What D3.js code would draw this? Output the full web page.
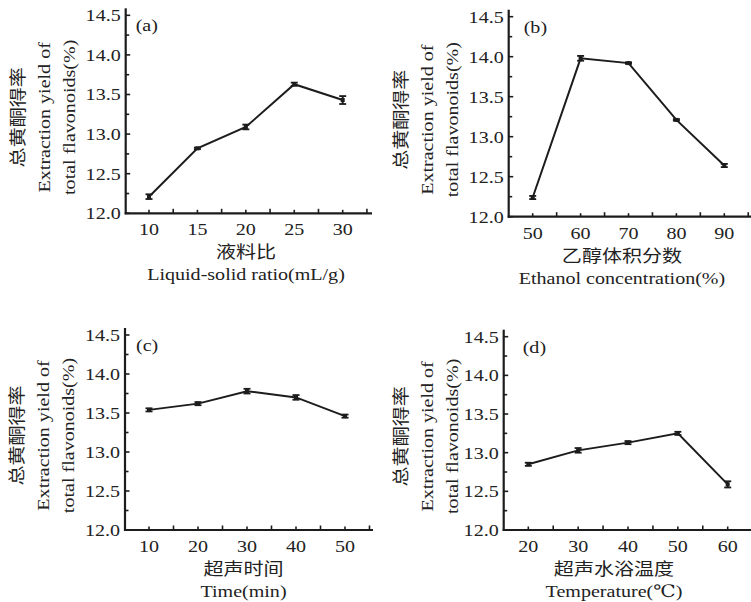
<!DOCTYPE html>
<html>
<head>
<meta charset="utf-8">
<script src="https://d3js.org/d3.v7.min.js"></script>
<style>
  body { margin: 0; background: #fff; }
  svg { display: block; }
</style>
</head>
<body>
<div id="viz"></div>
<script>
// ---- data ----
var ratio = [10, 15, 20, 25, 30];
var yieldA = [12.21, 12.82, 13.09, 13.63, 13.43];
var errA = [0.03, 0.01, 0.03, 0.02, 0.05];

var ethanol = [50, 60, 70, 80, 90];
var yieldB = [12.24, 13.98, 13.92, 13.21, 12.64];
var errB = [0.02, 0.03, 0.01, 0.01, 0.02];

var time = [10, 20, 30, 40, 50];
var yieldC = [13.54, 13.62, 13.78, 13.70, 13.46];
var errC = [0.02, 0.02, 0.03, 0.03, 0.02];

var temp = [20, 30, 40, 50, 60];
var yieldD = [12.85, 13.03, 13.13, 13.25, 12.59];
var errD = [0.02, 0.03, 0.02, 0.02, 0.04];

var yTicks = [12.0, 12.5, 13.0, 13.5, 14.0, 14.5];
var yLabel = ["总黄酮得率", "Extraction yield of", "total flavonoids(%)"];

var panels = [
  { tag: "(a)", x: ratio, y: yieldA, e: errA, xStep: 5,
    cn: "液料比", en: "Liquid-solid ratio(mL/g)",
    left: 125.7, bottom: 213.3, top: 15.3, x0: 149, x1: 342.7, right: 372,
    labX: 246, tagDx: 10, yLabDx: 0 },
  { tag: "(b)", x: ethanol, y: yieldB, e: errB, xStep: 10,
    cn: "乙醇体积分数", en: "Ethanol concentration(%)",
    left: 508.7, bottom: 216.7, top: 16.7, x0: 532.7, x1: 724.3, right: 751,
    labX: 622, tagDx: 15, yLabDx: 0 },
  { tag: "(c)", x: time, y: yieldC, e: errC, xStep: 10,
    cn: "超声时间", en: "Time(min)",
    left: 125, bottom: 530, top: 335, x0: 149, x1: 345, right: 373,
    labX: 243.5, tagDx: 11, yLabDx: 0 },
  { tag: "(d)", x: temp, y: yieldD, e: errD, xStep: 10,
    cn: "超声水浴温度", en: "Temperature(℃)",
    left: 503.7, bottom: 530, top: 336.7, x0: 528.3, x1: 727.7, right: 760,
    labX: 614, tagDx: 19, yLabDx: 5 }
];

var W = 751, H = 602;
var ink = "#1c1c1c", textCol = "#222";
var serif = "'Liberation Serif', 'DejaVu Serif', serif";
var cjk = "'Noto Sans CJK SC', sans-serif";
var fs = 17, sx = 1.18;

var svg = d3.select("#viz").append("svg")
    .attr("width", W).attr("height", H);

// text helper: journal font is horizontally wide, so stretch it a bit
function txt(g, x, y, s, anchor, rot, font) {
  var tr = "translate(" + x + "," + y + ")" + (rot ? " rotate(-90)" : "") + " scale(" + sx + ",1)";
  return g.append("text")
    .attr("transform", tr)
    .attr("text-anchor", anchor)
    .attr("dy", "0.35em")
    .style("font-family", font || serif)
    .style("font-size", fs + "px")
    .style("fill", textCol)
    .text(s);
}

panels.forEach(function(p) {
  var g = svg.append("g");
  var n = p.x.length;
  var xs = d3.scaleLinear().domain([p.x[0], p.x[n - 1]]).range([p.x0, p.x1]);
  var ys = d3.scaleLinear().domain([12, 14.5]).range([p.bottom, p.top]);

  // ticks point inward
  var xMinor = d3.range(p.x[0] - p.xStep / 2, p.x[n - 1] + p.xStep, p.xStep / 2)
      .filter(function(v) { return xs(v) > p.left + 2 && xs(v) < Math.min(p.right, W) - 1; });
  var yMinor = d3.range(12.25, 14.5, 0.5);

  g.selectAll(".xt").data(xMinor).enter().append("line")
    .attr("x1", function(d) { return xs(d); }).attr("x2", function(d) { return xs(d); })
    .attr("y1", p.bottom).attr("y2", function(d, i) { return p.bottom - (i % 2 ? 4.5 : 3.5); })
    .attr("stroke", ink).attr("stroke-width", 1.6);

  g.selectAll(".yt").data(yTicks).enter().append("line")
    .attr("x1", p.left).attr("x2", p.left + 4.5)
    .attr("y1", function(d) { return ys(d); }).attr("y2", function(d) { return ys(d); })
    .attr("stroke", ink).attr("stroke-width", 1.6);
  g.selectAll(".ym").data(yMinor).enter().append("line")
    .attr("x1", p.left).attr("x2", p.left + 3.5)
    .attr("y1", function(d) { return ys(d); }).attr("y2", function(d) { return ys(d); })
    .attr("stroke", ink).attr("stroke-width", 1.6);

  // axis lines
  g.append("line").attr("x1", p.left).attr("x2", p.left)
    .attr("y1", p.top - 7).attr("y2", p.bottom + 1)
    .attr("stroke", ink).attr("stroke-width", 2.2);
  g.append("line").attr("x1", p.left - 1).attr("x2", p.right)
    .attr("y1", p.bottom).attr("y2", p.bottom)
    .attr("stroke", ink).attr("stroke-width", 2.2);

  // tick labels
  yTicks.forEach(function(v) {
    txt(g, p.left - 5, ys(v), d3.format(".1f")(v), "end");
  });
  p.x.forEach(function(v) {
    txt(g, xs(v), p.bottom + 16, String(v), "middle");
  });

  // axis titles
  txt(g, p.labX, p.bottom + 39, p.cn, "middle", false, cjk);
  txt(g, p.labX, p.bottom + 61, p.en, "middle");

  var cy = ys(13.25) + 3;
  var lx = p.left + p.yLabDx;
  txt(g, lx - 108, cy, yLabel[0], "middle", true, cjk);
  txt(g, lx - 82, cy, yLabel[1], "middle", true);
  txt(g, lx - 57, cy, yLabel[2], "middle", true);

  // panel tag
  txt(g, p.left + p.tagDx, p.top + 10, p.tag, "start");

  // data line
  var pts = p.x.map(function(v, i) { return [v, p.y[i], p.e[i]]; });
  g.append("path").datum(pts)
    .attr("d", d3.line().x(function(d) { return xs(d[0]); }).y(function(d) { return ys(d[1]); }))
    .attr("fill", "none").attr("stroke", ink).attr("stroke-width", 2);

  // error bars
  var eb = g.selectAll(".eb").data(pts).enter().append("g");
  eb.append("line")
    .attr("x1", function(d) { return xs(d[0]); }).attr("x2", function(d) { return xs(d[0]); })
    .attr("y1", function(d) { return ys(d[1] - d[2]); }).attr("y2", function(d) { return ys(d[1] + d[2]); })
    .attr("stroke", ink).attr("stroke-width", 2);
  [-1, 1].forEach(function(sgn) {
    eb.append("line")
      .attr("x1", function(d) { return xs(d[0]) - 3.5; }).attr("x2", function(d) { return xs(d[0]) + 3.5; })
      .attr("y1", function(d) { return ys(d[1] + sgn * d[2]); }).attr("y2", function(d) { return ys(d[1] + sgn * d[2]); })
      .attr("stroke", ink).attr("stroke-width", 1.8);
  });
  eb.append("rect")
    .attr("x", function(d) { return xs(d[0]) - 2; }).attr("y", function(d) { return ys(d[1]) - 2; })
    .attr("width", 4).attr("height", 4).attr("fill", ink);
});
</script>
</body>
</html>
